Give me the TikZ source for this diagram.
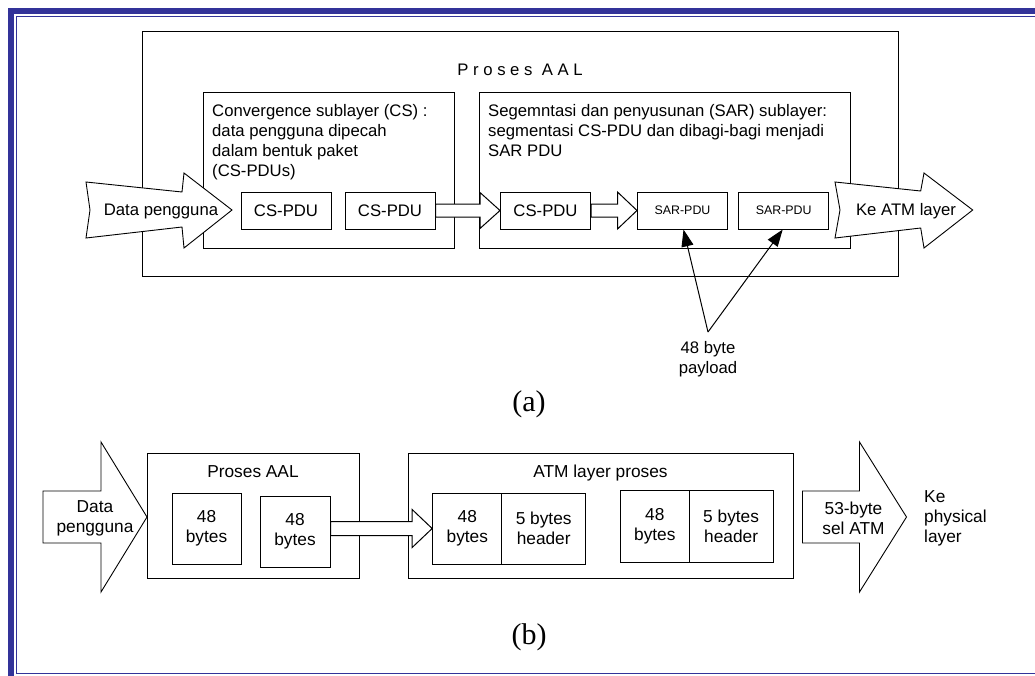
\documentclass[tikz,border=0pt]{standalone}
\usepackage{fontspec}
\setmainfont{Liberation Sans}
\newfontfamily\capfont{Liberation Serif}
\usetikzlibrary{arrows.meta,calc,fit}
\definecolor{frameblue}{HTML}{333399}
\newcommand\tstrut{\rule{0pt}{15pt}}
\begin{document}
\begin{tikzpicture}[x=1pt,y=-1pt,
  frame/.style={draw=black, line width=1pt, inner sep=0pt},
  pdu/.style={draw=black, line width=1pt, inner sep=0pt, font=\fontsize{16.7}{20}\selectfont, align=center},
  bpdu/.style={pdu, font=\fontsize{17.3}{20}\selectfont},
  txt/.style={inner sep=0pt, font=\fontsize{16.7}{20}\selectfont},
  btxt/.style={inner sep=0pt, font=\fontsize{17.3}{20}\selectfont},
  blockarrow/.style={draw=black, fill=white, line width=0.9pt, line join=miter},
  fillarrow/.style={draw=black, fill=white, line width=1pt},
  callout/.style={draw=black, line width=1pt, -{Triangle[length=17pt,width=12pt]}},
  caption/.style={inner sep=0pt, font=\capfont\fontsize{30}{34}\selectfont}
]
\useasboundingbox (0,0) rectangle (1035,675);
\begin{scope}
\clip (0,0) rectangle (1035,675);
\draw[frameblue, line width=6pt] (11,11) rectangle (1100,720);
\draw[frameblue, line width=1.4pt] (16.7,16.7) rectangle (1100,673.5);
\end{scope}

% ---------- (a) ----------
\node[frame, fit={(142,31) (898,276)}] (aal) {};
\node[txt, anchor=base] (aaltitle) at (520,75) {P r o s e s \ A A L};
\node[frame, fit={(203,92) (454,248)}] (csl) {};
\node[frame, fit={(479,92) (850,248)}] (sarl) {};
\node[txt, anchor=north west, align=left] (cstext) at (212,101) {\tstrut Convergence sublayer (CS) :\\data pengguna dipecah\\dalam bentuk paket\\(CS-PDUs)};
\node[txt, anchor=north west, align=left] (sartext) at (488,101) {\tstrut Segemntasi dan penyusunan (SAR) sublayer:\\segmentasi CS-PDU dan dibagi-bagi menjadi\\SAR PDU};

\node[pdu, minimum width=90, minimum height=37] (cs1) at (286,210.5) {CS-PDU};
\node[pdu, minimum width=90, minimum height=37] (cs2) at (390,210.5) {CS-PDU};
\node[pdu, minimum width=90, minimum height=37] (cs3) at (545.5,210.5) {CS-PDU};
\node[pdu, minimum width=90, minimum height=37, font=\fontsize{12.4}{14}\selectfont] (sar1) at (682.5,210.5) {SAR-PDU};
\node[pdu, minimum width=90, minimum height=37, font=\fontsize{12.4}{14}\selectfont] (sar2) at (783.7,210.5) {SAR-PDU};

\draw[fillarrow] ($(cs2.east)+(0,-6.5)$) -- ($(cs3.west)+(-20,-6.5)$) -- ($(cs3.west)+(-20,-18)$) -- (cs3.west) -- ($(cs3.west)+(-20,18)$) -- ($(cs3.west)+(-20,6.5)$) -- ($(cs2.east)+(0,6.5)$) -- cycle;
\draw[fillarrow] ($(cs3.east)+(0,-6.5)$) -- ($(sar1.west)+(-19.5,-6.5)$) -- ($(sar1.west)+(-19.5,-18.5)$) -- (sar1.west) -- ($(sar1.west)+(-19.5,18.5)$) -- ($(sar1.west)+(-19.5,6.5)$) -- ($(cs3.east)+(0,6.5)$) -- cycle;

\draw[blockarrow] (86,182) -- (90,210) -- (86,238) -- (182,227) -- (184,248) -- (232,210) -- (184,173) -- (182,192) -- cycle;
\node[txt] (din) at (161,211) {Data pengguna};
\draw[blockarrow] (835,182) -- (840,210) -- (835,238) -- (920.7,228) -- (924,248) -- (972.7,210) -- (924,173) -- (920.7,191) -- cycle;
\node[txt] (keatm) at (906,211) {Ke ATM layer};

\node[txt, anchor=north, align=center] (payload) at (708,338) {\tstrut 48 byte\\payload};
\coordinate (pl) at (708,332);
\draw[callout] (pl) -- ($(sar1.south)+(1,0)$);
\draw[callout] (pl) -- ($(sar2.south)+(-1,0)$);

\node[caption, anchor=base] (capa) at (529,411) {(a)};

% ---------- (b) ----------
\draw[blockarrow] (43,491) -- (101,491) -- (101,442) -- (147,517) -- (101,592) -- (101,543) -- (43,543) -- cycle;
\node[btxt, align=center] (din2) at (95,518) {Data\\pengguna};

\node[frame, fit={(147,453) (359,578)}] (aal2) {};
\node[btxt, anchor=base] (aal2t) at (253,477) {Proses AAL};
\node[frame, fit={(408,453) (793,578)}] (atm) {};
\node[btxt, anchor=base] (atmt) at (600.5,477) {ATM layer proses};

\node[bpdu, minimum width=69, minimum height=71] (b1) at (206.5,528.5) {48\\bytes};
\node[bpdu, minimum width=70, minimum height=71] (b2) at (295,531.5) {48\\bytes};
\node[bpdu, minimum width=69.3, minimum height=71] (c1a) at (467.3,528.5) {48\\bytes};
\node[bpdu, minimum width=83.5, minimum height=71] (c1b) at (543.7,528.5) {5 bytes\\header};
\node[bpdu, minimum width=68.7, minimum height=71.6] (c2a) at (654.8,526.5) {48\\bytes};
\node[bpdu, minimum width=83.9, minimum height=71.6] (c2b) at (731.1,526.5) {5 bytes\\header};

\draw[fillarrow] ($(b2.east |- c1a.west)+(0,-7)$) -- ($(c1a.west)+(-20,-7)$) -- ($(c1a.west)+(-20,-19)$) -- (c1a.west) -- ($(c1a.west)+(-20,19)$) -- ($(c1a.west)+(-20,7)$) -- ($(b2.east |- c1a.west)+(0,7)$) -- cycle;

\draw[blockarrow] (802.5,491) -- (859.5,491) -- (859.5,442) -- (906.5,517) -- (859.5,592) -- (859.5,543) -- (802.5,543) -- cycle;
\node[btxt, align=center] (cell) at (853.5,518) {53-byte\\sel ATM};
\node[btxt, anchor=north west, align=left] (kephy) at (924,487) {\tstrut Ke\\physical\\layer};

\node[caption, anchor=base] (capb) at (529,644) {(b)};
\end{tikzpicture}
\end{document}
